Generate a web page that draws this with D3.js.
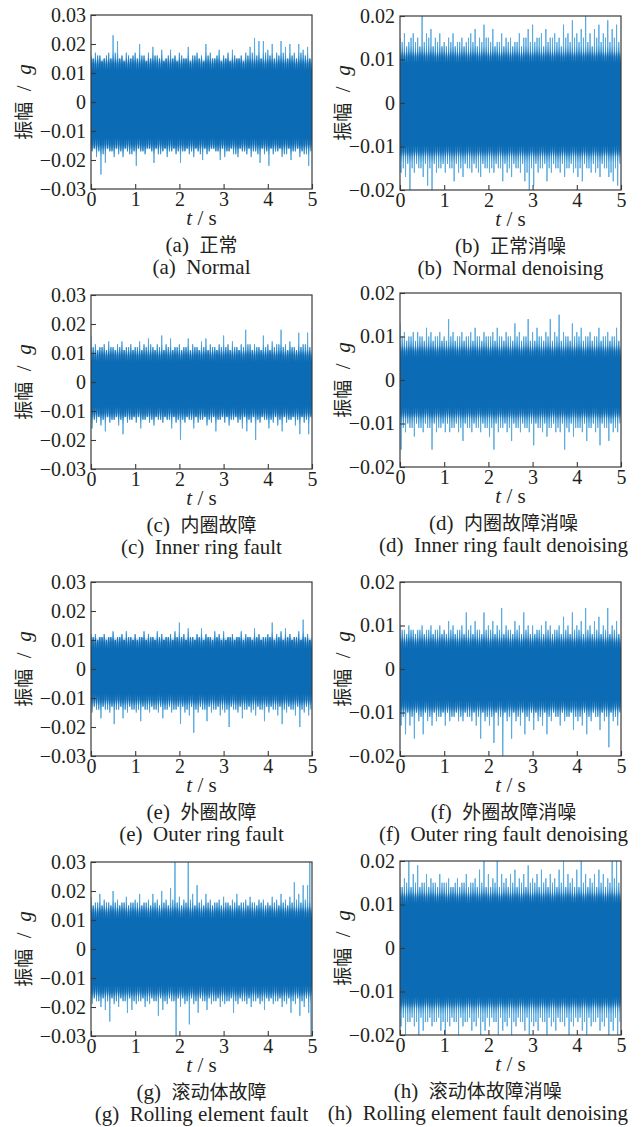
<!DOCTYPE html>
<html>
<head>
<meta charset="utf-8">
<script src="https://cdn.jsdelivr.net/npm/d3@7"></script>
<style>
body { margin: 0; background: #fff; }
</style>
</head>
<body>
<script>
"use strict";

// envelope peaks, one per 0.05 s, in units of 1e-3 g
var timeStep = 0.05;

var normalHi = [16,15,17,16,16,14,15,16,17,15,23,17,21,15,16,14,17,16,15,16,
	17,15,20,16,16,14,17,15,19,16,16,15,18,14,15,16,18,15,16,14,
	17,16,15,15,19,14,16,16,17,15,16,14,20,16,17,15,15,16,18,14,
	16,15,17,14,18,16,15,15,16,14,17,16,19,17,22,16,21,15,21,17,
	18,16,20,15,17,16,21,17,19,15,20,16,17,15,20,17,18,16,19,15];
var normalLo = [-17,-16,-19,-17,-25,-18,-21,-16,-17,-17,-19,-16,-18,-17,-19,-16,-17,-18,-18,-17,
	-22,-16,-17,-17,-18,-16,-16,-17,-21,-16,-18,-18,-17,-16,-19,-17,-17,-16,-18,-17,
	-21,-17,-17,-16,-18,-17,-19,-16,-17,-18,-20,-16,-18,-17,-16,-16,-17,-17,-20,-16,
	-19,-17,-17,-16,-18,-18,-19,-16,-17,-17,-18,-16,-19,-17,-17,-18,-21,-16,-18,-17,
	-22,-16,-18,-17,-17,-16,-19,-18,-18,-16,-20,-17,-17,-16,-19,-17,-18,-18,-22,-17];

var normalDnHi = [15,14,16,13,14,15,16,14,15,13,20,14,16,15,17,13,15,14,16,13,
	14,13,15,14,16,13,14,14,15,13,14,15,16,14,17,13,15,14,18,15,
	15,14,17,13,14,14,16,13,15,14,15,13,14,14,16,13,15,15,17,14,
	18,14,15,15,16,13,17,14,15,15,16,14,15,13,18,15,16,14,19,15,
	16,14,17,15,20,14,16,13,17,15,18,14,16,15,19,14,17,15,18,14];
var normalDnLo = [-16,-15,-17,-14,-20,-15,-16,-14,-15,-15,-17,-14,-19,-15,-20,-14,-16,-15,-15,-14,
	-16,-14,-15,-15,-18,-14,-16,-15,-17,-14,-15,-15,-16,-14,-15,-16,-17,-14,-15,-15,
	-16,-15,-16,-14,-15,-15,-18,-14,-16,-15,-17,-14,-15,-15,-16,-14,-18,-16,-20,-15,
	-19,-14,-16,-15,-15,-14,-18,-15,-16,-14,-15,-15,-16,-14,-17,-15,-15,-14,-16,-15,
	-17,-15,-18,-14,-15,-15,-16,-14,-16,-15,-17,-14,-15,-15,-17,-16,-18,-15,-19,-14];

var innerHi = [16,12,13,11,12,12,13,11,14,12,12,11,13,12,14,11,12,12,13,11,
	12,12,14,11,13,12,15,13,12,11,13,12,16,11,13,12,15,11,12,12,
	13,11,12,12,15,11,13,12,12,11,14,12,15,11,13,12,12,11,13,12,
	16,12,13,11,14,12,12,11,13,12,18,13,13,11,13,12,12,11,16,12,
	13,11,14,12,13,13,18,12,13,11,14,12,12,11,17,12,13,13,17,12];
var innerLo = [-16,-13,-14,-12,-15,-13,-17,-12,-14,-13,-13,-12,-15,-13,-18,-12,-14,-13,-13,-12,
	-14,-12,-16,-13,-13,-12,-14,-13,-15,-12,-13,-13,-14,-12,-13,-13,-16,-12,-14,-13,
	-20,-13,-14,-12,-13,-13,-16,-12,-14,-13,-13,-12,-15,-13,-14,-12,-17,-13,-13,-12,
	-14,-12,-15,-13,-13,-12,-14,-13,-16,-12,-17,-13,-14,-12,-20,-13,-14,-12,-13,-13,
	-16,-13,-14,-12,-15,-13,-17,-12,-14,-13,-13,-12,-15,-13,-18,-12,-14,-13,-18,-12];

var innerDnHi = [13,10,11,9,10,10,11,9,11,10,10,9,12,10,11,9,10,10,11,9,
	10,9,14,10,11,9,10,10,11,9,10,10,11,9,12,10,10,9,11,10,
	10,10,11,9,12,10,10,9,11,10,10,9,13,10,11,9,10,10,14,9,
	11,9,12,10,10,9,11,10,14,9,11,10,15,9,11,10,10,9,13,10,
	11,10,12,9,10,10,11,9,10,10,12,9,10,10,11,9,10,10,12,9];
var innerDnLo = [-16,-11,-12,-10,-11,-11,-13,-10,-11,-11,-12,-10,-11,-11,-16,-10,-12,-11,-11,-10,
	-12,-10,-12,-11,-11,-10,-12,-11,-14,-10,-11,-11,-12,-10,-11,-11,-12,-10,-11,-11,
	-13,-11,-16,-10,-12,-11,-11,-10,-12,-11,-14,-10,-11,-11,-12,-10,-11,-11,-12,-10,
	-15,-10,-11,-11,-12,-10,-13,-11,-11,-10,-12,-11,-12,-10,-16,-11,-12,-10,-13,-11,
	-11,-11,-12,-10,-14,-11,-11,-10,-12,-11,-15,-10,-11,-11,-14,-10,-12,-11,-12,-10];

var outerHi = [12,11,12,10,11,11,12,10,11,11,13,10,11,11,12,10,13,11,11,10,
	12,10,11,11,13,10,12,11,11,10,13,11,12,10,11,11,12,10,13,11,
	16,11,12,10,14,11,11,10,12,11,14,10,12,11,11,10,13,11,12,10,
	13,10,11,11,12,10,11,11,13,10,12,11,11,10,14,11,12,10,11,11,
	12,11,16,10,12,11,13,10,14,11,12,10,11,11,13,10,17,11,12,10];
var outerLo = [-15,-13,-14,-14,-17,-13,-14,-14,-15,-13,-19,-14,-14,-13,-17,-14,-15,-13,-14,-14,
	-15,-14,-18,-13,-14,-14,-15,-13,-14,-14,-15,-13,-17,-14,-14,-13,-15,-14,-14,-13,
	-19,-13,-15,-14,-16,-13,-22,-14,-15,-13,-14,-14,-18,-13,-15,-14,-14,-13,-16,-14,
	-15,-14,-20,-13,-14,-14,-15,-13,-17,-14,-14,-13,-15,-14,-16,-13,-14,-14,-18,-13,
	-15,-13,-14,-14,-16,-13,-19,-14,-15,-13,-14,-14,-16,-13,-20,-14,-15,-13,-16,-14];

var outerDnHi = [10,9,9,8,10,9,9,8,9,9,10,8,9,9,10,8,9,9,10,8,
	9,8,11,9,10,8,9,9,10,8,13,9,10,8,11,9,9,8,13,9,
	10,9,11,8,10,9,14,8,10,9,9,8,11,9,10,8,13,9,10,8,
	10,8,9,9,10,8,11,9,10,8,9,9,10,8,12,9,10,8,13,9,
	10,9,11,8,14,9,10,8,11,9,12,8,10,9,14,8,10,9,11,8];
var outerDnLo = [-13,-11,-15,-10,-13,-11,-16,-10,-12,-11,-15,-10,-12,-11,-13,-10,-12,-11,-11,-10,
	-13,-10,-12,-11,-11,-10,-12,-11,-12,-10,-11,-11,-12,-10,-13,-11,-16,-10,-12,-11,
	-13,-11,-17,-10,-13,-11,-21,-10,-12,-11,-16,-10,-12,-11,-13,-10,-15,-11,-12,-10,
	-14,-10,-12,-11,-13,-10,-15,-11,-12,-10,-11,-11,-13,-10,-12,-11,-11,-10,-14,-11,
	-12,-11,-13,-10,-15,-11,-12,-10,-11,-11,-14,-10,-12,-11,-18,-10,-12,-11,-13,-10];

var rollHi = [18,15,16,16,19,15,17,16,16,15,20,16,17,15,16,16,18,15,16,16,
	17,16,19,15,16,16,17,15,19,16,17,15,20,16,17,15,21,17,30,16,
	18,15,17,16,30,17,19,15,22,16,17,15,19,16,17,15,16,16,17,15,
	18,16,16,15,17,16,19,15,16,16,17,15,18,16,16,15,17,16,17,15,
	16,15,18,16,17,15,19,16,17,15,18,16,23,17,19,16,22,17,22,30];
var rollLo = [-19,-17,-18,-18,-20,-17,-21,-18,-25,-17,-19,-18,-20,-17,-18,-18,-22,-17,-21,-18,
	-19,-18,-18,-17,-20,-18,-19,-17,-18,-18,-23,-17,-21,-18,-19,-17,-18,-18,-30,-17,
	-20,-17,-19,-18,-26,-17,-19,-18,-22,-17,-18,-18,-21,-17,-19,-18,-18,-17,-20,-18,
	-19,-18,-18,-17,-22,-18,-19,-17,-18,-18,-19,-17,-20,-18,-18,-17,-19,-18,-21,-17,
	-18,-17,-19,-18,-18,-17,-20,-18,-19,-17,-22,-18,-19,-17,-23,-18,-20,-17,-22,-30];

var rollDnHi = [14,14,16,15,20,14,17,15,19,14,15,15,17,14,16,15,15,14,17,15,
	15,15,16,14,14,15,16,14,15,15,17,14,15,15,16,14,18,15,20,14,
	17,14,16,15,20,14,17,15,16,14,17,15,18,14,16,15,17,14,19,15,
	16,15,17,14,18,15,16,14,17,15,16,14,18,15,20,14,17,15,16,14,
	18,14,20,15,17,14,16,15,17,14,18,15,17,14,16,15,20,16,20,15];
var rollDnLo = [-18,-16,-20,-17,-17,-16,-18,-17,-20,-16,-19,-17,-17,-16,-18,-17,-17,-16,-19,-17,
	-20,-17,-18,-16,-17,-17,-20,-16,-18,-17,-17,-16,-19,-17,-18,-16,-20,-17,-19,-16,
	-18,-16,-17,-17,-20,-16,-19,-17,-18,-16,-20,-17,-18,-16,-17,-17,-19,-16,-20,-17,
	-18,-17,-19,-16,-17,-17,-20,-16,-18,-17,-19,-16,-17,-17,-18,-16,-20,-17,-18,-16,
	-17,-16,-19,-17,-20,-16,-18,-17,-17,-16,-19,-17,-18,-16,-20,-17,-19,-16,-20,-17];

// dense dark band of each signal (upper and lower edge), 1e-3 g
var coreTop = [13, 10.5, 9, 6.5, 9, 6, 12.5, 11.5];
var coreBottom = [-14.5, -11, -10.5, -7.5, -10.5, -8.5, -14.5, -12.5];

var captionsZh = ["正常", "正常消噪", "内圈故障", "内圈故障消噪", "外圈故障", "外圈故障消噪", "滚动体故障", "滚动体故障消噪"];
var captionsEn = ["Normal", "Normal denoising", "Inner ring fault", "Inner ring fault denoising",
	"Outer ring fault", "Outer ring fault denoising", "Rolling element fault", "Rolling element fault denoising"];
var panelLetters = ["a", "b", "c", "d", "e", "f", "g", "h"];

var yLimits = [0.03, 0.02];
var yTicksLeft = [-0.03, -0.02, -0.01, 0, 0.01, 0.02, 0.03];
var yTicksRight = [-0.02, -0.01, 0, 0.01, 0.02];
var xTicks = [0, 1, 2, 3, 4, 5];

var highs = [normalHi, normalDnHi, innerHi, innerDnHi, outerHi, outerDnHi, rollHi, rollDnHi];
var lows = [normalLo, normalDnLo, innerLo, innerDnLo, outerLo, outerDnLo, rollLo, rollDnLo];

// layout
var colX = [91, 400];
var rowTops = [[15, 295, 582, 862], [16, 293, 582, 861]];
var plotW = 221, plotH = 174;
var darkBlue = "#0b6bb4", lightBlue = "#5aabe0", frameColor = "#3a3a3a", textColor = "#231f20";
var serif = "'Liberation Serif', 'Times New Roman', 'DejaVu Serif', serif";
var cjk = "'Noto Sans CJK SC', sans-serif";

var svg = d3.select("body").append("svg")
	.attr("width", 643)
	.attr("height", 1127)
	.attr("font-family", serif);
var defs = svg.append("defs");

for (var k = 0; k < 8; k++) {
	drawPanel(k);
}

function drawPanel(k) {
	var col = k % 2, row = Math.floor(k / 2);
	var px = colX[col], py = rowTops[col][row];
	var lim = yLimits[col];

	var x = d3.scaleLinear().domain([0, 5]).range([0, plotW]);
	var y = d3.scaleLinear().domain([-lim, lim]).range([plotH, 0]);

	var g = svg.append("g").attr("transform", "translate(" + px + "," + py + ")");

	defs.append("clipPath").attr("id", "clip" + k)
		.append("rect").attr("width", plotW).attr("height", plotH);

	var plot = g.append("g").attr("clip-path", "url(#clip" + k + ")");

	// zigzag through the upper and lower peak of each slot
	var pts = [];
	highs[k].forEach(function (v, i) {
		pts.push([i * timeStep, v / 1000]);
		pts.push([i * timeStep + timeStep / 2, lows[k][i] / 1000]);
	});
	var line = d3.line()
		.x(function (d) { return x(d[0]); })
		.y(function (d) { return y(d[1]); });
	var signalPath = line(pts);

	// light tips
	plot.append("path")
		.attr("d", signalPath)
		.attr("fill", "none")
		.attr("stroke", lightBlue)
		.attr("stroke-width", 1);

	var yTop = y(coreTop[k] / 1000), yBot = y(coreBottom[k] / 1000);

	// dark part of the lines, fading out past the band edge
	var fadePx = 12;
	var mgrad = defs.append("linearGradient").attr("id", "mgrad" + k)
		.attr("gradientUnits", "userSpaceOnUse")
		.attr("x1", 0).attr("x2", 0).attr("y1", 0).attr("y2", plotH);
	[[0, "#000"], [(yTop - fadePx) / plotH, "#000"], [yTop / plotH, "#fff"],
		[yBot / plotH, "#fff"], [(yBot + fadePx) / plotH, "#000"], [1, "#000"]].forEach(function (s) {
		mgrad.append("stop").attr("offset", Math.max(0, Math.min(1, s[0]))).attr("stop-color", s[1]);
	});
	defs.append("mask").attr("id", "mask" + k)
		.attr("maskUnits", "userSpaceOnUse")
		.attr("x", 0).attr("y", 0).attr("width", plotW).attr("height", plotH)
		.append("rect").attr("width", plotW).attr("height", plotH)
		.attr("fill", "url(#mgrad" + k + ")");
	plot.append("path")
		.attr("d", signalPath)
		.attr("fill", "none")
		.attr("stroke", darkBlue)
		.attr("stroke-width", 1)
		.attr("mask", "url(#mask" + k + ")");

	// dense band, soft edges
	var soft = 6;
	var top = yTop - soft, bottom = yBot + soft;
	var f = soft / (bottom - top);
	var grad = defs.append("linearGradient").attr("id", "core" + k)
		.attr("x1", 0).attr("x2", 0).attr("y1", 0).attr("y2", 1);
	[[0, 0], [f, 0.7], [2 * f, 1], [1 - 2 * f, 1], [1 - f, 0.7], [1, 0]].forEach(function (s) {
		grad.append("stop").attr("offset", s[0]).attr("stop-color", darkBlue).attr("stop-opacity", s[1]);
	});
	plot.append("rect")
		.attr("x", 0).attr("width", plotW)
		.attr("y", top).attr("height", bottom - top)
		.attr("fill", "url(#core" + k + ")");

	// axes with inward ticks
	var yAxis = d3.axisLeft(y)
		.tickValues(col === 0 ? yTicksLeft : yTicksRight)
		.tickSizeInner(-5).tickSizeOuter(0).tickPadding(5)
		.tickFormat(function (d) { return d === 0 ? "0" : d3.format(".2f")(d); });
	var xAxis = d3.axisBottom(x)
		.tickValues(xTicks)
		.tickSizeInner(-5).tickSizeOuter(0).tickPadding(3)
		.tickFormat(d3.format("d"));

	var ya = g.append("g").call(yAxis);
	var xa = g.append("g").attr("transform", "translate(0," + plotH + ")").call(xAxis);
	[ya, xa].forEach(function (a) {
		a.attr("font-family", serif).attr("font-size", 20);
		a.select(".domain").remove();
		a.selectAll("line").attr("stroke", frameColor).attr("stroke-width", 1.1);
		a.selectAll("text").attr("fill", textColor);
	});

	g.append("rect")
		.attr("width", plotW).attr("height", plotH)
		.attr("fill", "none")
		.attr("stroke", frameColor)
		.attr("stroke-width", 1.2);

	// axis titles
	var xt = g.append("text")
		.attr("x", plotW / 2).attr("y", plotH + 36)
		.attr("text-anchor", "middle").attr("font-size", 21)
		.attr("fill", textColor).style("white-space", "pre");
	xt.append("tspan").attr("font-style", "italic").text("t");
	xt.append("tspan").text(" / s");

	var yt = g.append("text")
		.attr("transform", "translate(" + (col === 0 ? -68 : -58) + "," + (plotH / 2) + ") rotate(-90)")
		.attr("text-anchor", "middle").attr("dy", "0.36em").attr("font-size", 21)
		.attr("fill", textColor).style("white-space", "pre");
	yt.append("tspan").attr("font-family", cjk).attr("font-size", 19).text("振幅");
	yt.append("tspan").text("  /  ");
	yt.append("tspan").attr("font-style", "italic").text("g");

	// captions
	var cx = plotW / 2;
	var zh = g.append("text")
		.attr("y", plotH + 63).attr("text-anchor", "middle").attr("font-size", 21)
		.attr("fill", textColor).style("white-space", "pre");
	zh.append("tspan").text("(" + panelLetters[k] + ")  ");
	zh.append("tspan").attr("font-family", cjk).attr("font-size", 19).text(captionsZh[k]);

	var en = g.append("text")
		.attr("y", plotH + 85).attr("text-anchor", "middle").attr("font-size", 21)
		.attr("fill", textColor).style("white-space", "pre")
		.text("(" + panelLetters[k] + ")  " + captionsEn[k]);

	var w = en.node().getComputedTextLength();
	var maxCx = 628 - px - w / 2;
	if (cx > maxCx) cx = maxCx;
	zh.attr("x", cx);
	en.attr("x", cx);
}
</script>
</body>
</html>
